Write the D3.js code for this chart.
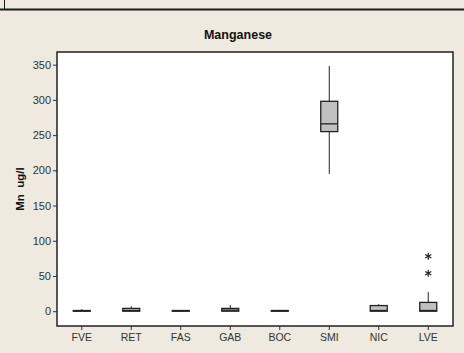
<!DOCTYPE html>
<html>
<head>
<meta charset="utf-8">
<script src="https://cdn.jsdelivr.net/npm/d3@7/dist/d3.min.js"></script>
<style>
  html, body { margin: 0; padding: 0; background: #EEEAE0; }
  svg { display: block; }
  text { font-family: "Liberation Sans", Arial, sans-serif; }
</style>
</head>
<body>
<svg id="chart" width="464" height="353"></svg>
<script>
// Manganese concentration by site (ug/l): box-plot summaries
const categories  = ["FVE", "RET", "FAS", "GAB", "BOC", "SMI", "NIC", "LVE"];
const whiskerLow  = [0,   0,   0,   0,   0,   195, 0,  0];
const q1          = [0,   0,   0,   0,   0,   255, 0,  0];
const median      = [0.5, 1,   0.5, 1.5, 0.5, 266, 1,  1];
const q3          = [1,   4,   1,   4,   1,   298, 8,  12.5];
const whiskerHigh = [3,   7,   1.5, 9,   2,   348, 10, 27];
const outliers    = [[], [], [], [], [], [], [], [54, 78]];
const yTicks      = [0, 50, 100, 150, 200, 250, 300, 350];

const svg = d3.select("#chart");
const W = 464, H = 353;
const m = { left: 57, right: 11, top: 52, bottom: 27 };

// Header strip
svg.append("line").attr("x1", 0).attr("x2", W).attr("y1", 9.5).attr("y2", 9.5)
  .attr("stroke", "#1a1a1a").attr("stroke-width", 2);
svg.append("line").attr("x1", 4.5).attr("x2", 4.5).attr("y1", 0).attr("y2", 9)
  .attr("stroke", "#1a1a1a").attr("stroke-width", 1);

const x = d3.scaleBand().domain(categories).range([m.left, W - m.right]).padding(0);
const y = d3.scaleLinear().domain([-21, 368]).range([H - m.bottom, m.top]);

// Plot area
svg.append("rect")
  .attr("x", m.left).attr("y", m.top)
  .attr("width", W - m.left - m.right).attr("height", H - m.top - m.bottom)
  .attr("fill", "#ffffff").attr("stroke", "#222").attr("stroke-width", 1.5);

// Title
svg.append("text").attr("x", 238).attr("y", 39).attr("text-anchor", "middle")
  .attr("font-size", 12.5).attr("font-weight", "bold").attr("fill", "#111")
  .text("Manganese");

// Y axis
const yAxis = d3.axisLeft(y).tickValues(yTicks).tickSize(4).tickPadding(2);
const gy = svg.append("g").attr("transform", `translate(${m.left},0)`).call(yAxis);
gy.select(".domain").remove();
gy.selectAll("line").attr("stroke", "#333");
gy.selectAll("text").attr("font-size", 11).attr("fill", "#333")
  .style("font-family", "'Liberation Sans', Arial, sans-serif");

// X axis
const xAxis = d3.axisBottom(x).tickSize(4).tickPadding(4);
const gx = svg.append("g").attr("transform", `translate(0,${H - m.bottom})`).call(xAxis);
gx.select(".domain").remove();
gx.selectAll("line").attr("stroke", "#333");
gx.selectAll("text").attr("font-size", 10.5).attr("fill", "#333")
  .style("font-family", "'Liberation Sans', Arial, sans-serif");

// Y axis label
svg.append("text")
  .attr("transform", `translate(24,${(m.top + H - m.bottom) / 2}) rotate(-90)`)
  .attr("text-anchor", "middle").attr("font-size", 11.5).attr("font-weight", "bold")
  .attr("fill", "#111").attr("xml:space", "preserve")
  .text("Mn  ug/l");

// Boxes
const boxW = 17;
const g = svg.append("g");
categories.forEach((c, i) => {
  const cx = x(c) + x.bandwidth() / 2;
  // whiskers
  g.append("line").attr("x1", cx).attr("x2", cx)
    .attr("y1", y(q3[i])).attr("y2", y(whiskerHigh[i]))
    .attr("stroke", "#222").attr("stroke-width", 1);
  g.append("line").attr("x1", cx).attr("x2", cx)
    .attr("y1", y(q1[i])).attr("y2", y(whiskerLow[i]))
    .attr("stroke", "#222").attr("stroke-width", 1);
  // box
  g.append("rect")
    .attr("x", cx - boxW / 2).attr("width", boxW)
    .attr("y", y(q3[i])).attr("height", Math.max(0, y(q1[i]) - y(q3[i])))
    .attr("fill", "#C0C0C0").attr("stroke", "#222").attr("stroke-width", 1.3);
  // median
  g.append("line").attr("x1", cx - boxW / 2).attr("x2", cx + boxW / 2)
    .attr("y1", y(median[i])).attr("y2", y(median[i]))
    .attr("stroke", "#222").attr("stroke-width", 1.3);
  // outliers drawn as asterisks
  outliers[i].forEach(v => {
    const py = y(v), r = 3.5;
    const star = g.append("g").attr("transform", `translate(${cx},${py})`)
      .attr("stroke", "#222").attr("stroke-width", 1.2);
    star.append("line").attr("x1", 0).attr("x2", 0).attr("y1", -r).attr("y2", r);
    star.append("line").attr("x1", -r * 0.87).attr("x2", r * 0.87).attr("y1", -r * 0.5).attr("y2", r * 0.5);
    star.append("line").attr("x1", -r * 0.87).attr("x2", r * 0.87).attr("y1", r * 0.5).attr("y2", -r * 0.5);
  });
});
</script>
</body>
</html>
